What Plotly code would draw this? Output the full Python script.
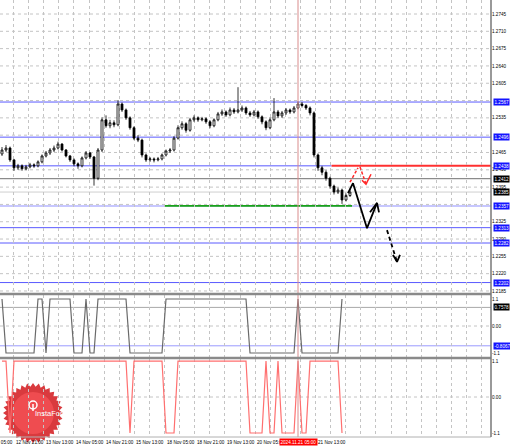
import numpy as np
import plotly.graph_objects as go

# ---------------- data ----------------
bar_open = [1.2462, 1.2470, 1.2474, 1.2450, 1.2434, 1.2438, 1.2432, 1.2436, 1.2440, 1.2438,
            1.2446, 1.2458, 1.2464, 1.2470, 1.2474, 1.2482, 1.2470, 1.2458, 1.2450, 1.2442,
            1.2438, 1.2454, 1.2464, 1.2456, 1.2413, 1.2470, 1.2531, 1.2519, 1.2525, 1.2521,
            1.2563, 1.2551, 1.2535, 1.2515, 1.2494, 1.2490, 1.2460, 1.2450, 1.2452, 1.2450,
            1.2452, 1.2460, 1.2468, 1.2470, 1.2494, 1.2515, 1.2523, 1.2510, 1.2531, 1.2535,
            1.2531, 1.2533, 1.2527, 1.2519, 1.2531, 1.2543, 1.2547, 1.2541, 1.2551, 1.2547,
            1.2551, 1.2555, 1.2545, 1.2541, 1.2547, 1.2537, 1.2527, 1.2515, 1.2531, 1.2547,
            1.2539, 1.2545, 1.2551, 1.2547, 1.2555, 1.2563, 1.2560, 1.2555, 1.2545, 1.2460,
            1.2434, 1.2425, 1.2413, 1.2397, 1.2385, 1.2389, 1.2369, 1.2378]
bar_high = [1.2476, 1.2480, 1.2477, 1.2452, 1.2442, 1.2441, 1.2440, 1.2444, 1.2443, 1.2449,
            1.2461, 1.2468, 1.2474, 1.2479, 1.2487, 1.2484, 1.2472, 1.2460, 1.2453, 1.2445,
            1.2457, 1.2468, 1.2466, 1.2458, 1.2474, 1.2536, 1.2540, 1.2531, 1.2530, 1.2571,
            1.2566, 1.2554, 1.2538, 1.2518, 1.2500, 1.2493, 1.2463, 1.2456, 1.2455, 1.2456,
            1.2463, 1.2471, 1.2474, 1.2498, 1.2520, 1.2528, 1.2526, 1.2535, 1.2540, 1.2538,
            1.2537, 1.2536, 1.2530, 1.2534, 1.2547, 1.2552, 1.2550, 1.2556, 1.2555, 1.2597,
            1.2560, 1.2558, 1.2549, 1.2551, 1.2550, 1.2540, 1.2530, 1.2536, 1.2575, 1.2551,
            1.2549, 1.2555, 1.2554, 1.2559, 1.2568, 1.2567, 1.2563, 1.2558, 1.2548, 1.2463,
            1.2438, 1.2429, 1.2416, 1.2400, 1.2394, 1.2392, 1.2382, 1.2392]
bar_low = [1.2458, 1.2466, 1.2446, 1.2428, 1.2430, 1.2428, 1.2429, 1.2433, 1.2434, 1.2435,
           1.2443, 1.2455, 1.2460, 1.2466, 1.2471, 1.2467, 1.2455, 1.2446, 1.2437, 1.2432,
           1.2435, 1.2451, 1.2452, 1.2398, 1.2409, 1.2466, 1.2515, 1.2514, 1.2516, 1.2518,
           1.2547, 1.2531, 1.2511, 1.2490, 1.2486, 1.2455, 1.2446, 1.2446, 1.2445, 1.2447,
           1.2449, 1.2457, 1.2464, 1.2467, 1.2491, 1.2511, 1.2505, 1.2507, 1.2527, 1.2527,
           1.2528, 1.2523, 1.2514, 1.2516, 1.2528, 1.2539, 1.2537, 1.2538, 1.2543, 1.2544,
           1.2547, 1.2541, 1.2537, 1.2538, 1.2533, 1.2522, 1.2510, 1.2512, 1.2528, 1.2535,
           1.2535, 1.2541, 1.2543, 1.2544, 1.2552, 1.2556, 1.2551, 1.2540, 1.2455, 1.2428,
           1.2419, 1.2408, 1.2392, 1.2380, 1.2381, 1.2361, 1.2366, 1.2375]
bar_close = [1.2470, 1.2474, 1.2450, 1.2434, 1.2438, 1.2432, 1.2436, 1.2440, 1.2438, 1.2446,
             1.2458, 1.2464, 1.2470, 1.2474, 1.2482, 1.2470, 1.2458, 1.2450, 1.2442, 1.2438,
             1.2454, 1.2464, 1.2456, 1.2413, 1.2470, 1.2531, 1.2519, 1.2525, 1.2521, 1.2563,
             1.2551, 1.2535, 1.2515, 1.2494, 1.2490, 1.2460, 1.2450, 1.2452, 1.2450, 1.2452,
             1.2460, 1.2468, 1.2470, 1.2494, 1.2515, 1.2523, 1.2510, 1.2531, 1.2535, 1.2531,
             1.2533, 1.2527, 1.2519, 1.2531, 1.2543, 1.2547, 1.2541, 1.2551, 1.2547, 1.2551,
             1.2555, 1.2545, 1.2541, 1.2547, 1.2537, 1.2527, 1.2515, 1.2531, 1.2547, 1.2539,
             1.2545, 1.2551, 1.2547, 1.2555, 1.2563, 1.2560, 1.2555, 1.2545, 1.2460, 1.2434,
             1.2425, 1.2413, 1.2397, 1.2385, 1.2389, 1.2369, 1.2378, 1.2385]
bar_index = list(range(len(bar_close)))

osc_gray = [1.1, -1.1, -1.1, -1.1, -1.1, -1.1, -1.1, -1.1, -1.1, 1.1,
            1.1, -1.1, 1.1, 1.1, 1.1, 1.1, 1.1, 1.1, -1.1, -1.1,
            -1.1, 1.1, -1.1, -1.1, 1.1, 1.1, 1.1, 1.1, 1.1, 1.1,
            1.1, 1.1, -1.1, -1.1, -1.1, -1.1, -1.1, -1.1, -1.1, -1.1,
            -1.1, 1.1, 1.1, 1.1, 1.1, 1.1, 1.1, 1.1, 1.1, 1.1,
            1.1, 1.1, 1.1, 1.1, 1.1, 1.1, 1.1, 1.1, 1.1, 1.1,
            1.1, 1.1, -1.1, -1.1, -1.1, -1.1, -1.1, -1.1, -1.1, -1.1,
            -1.1, -1.1, -1.1, -1.1, 1.1, -1.1, -1.1, -1.1, -1.1, -1.1,
            -1.1, -1.1, -1.1, -1.1, -1.1, 1.1]
osc_red = [1.1, 1.1, -1.1, 1.1, 1.1, 1.1, 1.1, 1.1, 1.1, 1.1,
           1.1, 1.1, 1.1, 1.1, 1.1, 1.1, 1.1, 1.1, 1.1, 1.1,
           1.1, 1.1, 1.1, 1.1, 1.1, 1.1, 1.1, 1.1, 1.1, 1.1,
           1.1, 1.1, -1.1, 1.1, 1.1, 1.1, 1.1, 1.1, 1.1, 1.1,
           1.1, -1.1, -1.1, -1.1, 1.1, 1.1, 1.1, 1.1, 1.1, 1.1,
           1.1, 1.1, 1.1, 1.1, 1.1, 1.1, 1.1, 1.1, 1.1, 1.1,
           1.1, 1.1, -1.1, -1.1, -1.1, -1.1, 1.1, -1.1, -1.1, 1.1,
           -1.1, -1.1, -1.1, -1.1, 1.1, -1.1, -1.1, 1.1, 1.1, 1.1,
           1.1, 1.1, 1.1, 1.1, 1.1, -1.1]

# price scale labels visible in the reference (others are hidden under boxed labels)
price_ticks = [1.2745, 1.2710, 1.2675, 1.2640, 1.2605, 1.2535, 1.2465,
               1.2430, 1.2395, 1.2325, 1.2290, 1.2255, 1.2220, 1.2185]
price_grid = [1.2745, 1.2710, 1.2675, 1.2640, 1.2605, 1.2570, 1.2535, 1.2500, 1.2465,
              1.2430, 1.2395, 1.2360, 1.2325, 1.2290, 1.2255, 1.2220, 1.2185]
# time labels with their slot number (every second grid line); slot 10 is under the cursor box
time_labels = [(-1, "12 Nov 05:00"), (0, "12 Nov 21:00"), (1, "13 Nov 13:00"), (2, "14 Nov 05:00"),
               (3, "14 Nov 21:00"), (4, "15 Nov 13:00"), (5, "18 Nov 05:00"), (6, "18 Nov 21:00"),
               (7, "19 Nov 13:00"), (8, "20 Nov 05:00"), (10, "21 Nov 13:00")]
cursor_bar = 74
cursor_label = "2024.11.21 05:00"

blue_levels = [1.2567, 1.2496, 1.2313, 1.2282, 1.2202]
resistance_level = 1.2438
resistance_start = 82.4
gray_level = 1.2412
bid_level = 1.2385
support_level = 1.2357
support_start = 40.75
support_end = 87.5
osc_levels = [0.7578, -0.8067]

# forecast arrows (bar index, price)
black_x = [86.5, 87.75, 91.25, 93.75]
black_y = [1.2383, 1.2403, 1.2312, 1.2363]
black_head_x = [92.0, 93.75, 94.25]
black_head_y = [1.2344, 1.2363, 1.2344]
black_dash_x = [96.25, 98.75]
black_dash_y = [1.2308, 1.2244]
black_dhead_x = [97.75, 98.75, 99.5]
black_dhead_y = [1.2258, 1.2244, 1.2258]
red_up_x = [87.0, 89.0]
red_up_y = [1.2405, 1.2434]
red_dn_x = [89.5, 91.0]
red_dn_y = [1.2436, 1.2401]
red_head_x = [90.0, 91.0, 92.25]
red_head_y = [1.2409, 1.2401, 1.2421]

boxed_labels = [(1.2567, "1.2567", "#1414ff"), (1.2496, "1.2496", "#1414ff"),
                (1.2438, "1.2438", "#1414ff"), (1.2412, "1.2412", "#000000"),
                (1.2385, "1.2385", "#000000"), (1.2357, "1.2357", "#1414ff"),
                (1.2313, "1.2313", "#1414ff"), (1.2282, "1.2282", "#1414ff"),
                (1.2202, "1.2202", "#1414ff")]
osc_boxed = [(0.7578, "0.7578", "#000000"), (-0.8067, "-0.8067", "#1414ff")]

# ---------------- layout geometry ----------------
W, H = 510, 447
ML, MR, MT, MB = 0, 19, 0, 10
PW, PH = W - ML - MR, H - MT - MB
X_MIN, X_MAX = -0.5, (PW / 4.0) - 0.5
GRID0, GRIDSTEP = 2.875, 3.775
grid_vals = [GRID0 + GRIDSTEP * k for k in range(0, 33)]


def py2paper(py):
    return 1 - py / PH


FONT = "Liberation Sans, Arial, sans-serif"
GRID = "#c4c4c4"

fig = go.Figure()
fig.add_trace(go.Candlestick(
    x=bar_index, open=bar_open, high=bar_high, low=bar_low, close=bar_close,
    xaxis="x", yaxis="y", whiskerwidth=0, showlegend=False, hoverinfo="skip",
    increasing=dict(line=dict(color="#000000", width=0.8), fillcolor="#ffffff"),
    decreasing=dict(line=dict(color="#000000", width=0.8), fillcolor="#000000")))

fig.add_trace(go.Scatter(x=bar_index[:len(osc_gray)], y=osc_gray, xaxis="x2", yaxis="y2",
                         mode="lines", line=dict(color="#6a6a6a", width=1.2), showlegend=False))
fig.add_trace(go.Scatter(x=bar_index[:len(osc_red)], y=osc_red, xaxis="x3", yaxis="y3",
                         mode="lines", line=dict(color="#ff6f6f", width=1.2), showlegend=False))

# arrows
for xs, ys, dash in [(black_x, black_y, "solid"), (black_head_x, black_head_y, "solid"),
                     (black_dash_x, black_dash_y, "4px,3px"), (black_dhead_x, black_dhead_y, "solid")]:
    fig.add_trace(go.Scatter(x=xs, y=ys, xaxis="x", yaxis="y", mode="lines",
                             line=dict(color="#000000", width=1.8, dash=dash), showlegend=False))
for xs, ys, dash in [(red_up_x, red_up_y, "3px,2px"), (red_dn_x, red_dn_y, "3px,2px"),
                     (red_head_x, red_head_y, "solid")]:
    fig.add_trace(go.Scatter(x=xs, y=ys, xaxis="x", yaxis="y", mode="lines",
                             line=dict(color="#ff2a2a", width=1.5, dash=dash), showlegend=False))

shapes = []
# horizontal dotted price grid
for lv in price_grid:
    shapes.append(dict(type="line", xref="x domain", yref="y", x0=0, x1=1, y0=lv, y1=lv,
                       line=dict(color=GRID, width=1, dash="dot"), layer="below"))
# horizontal levels (main)
for lv in blue_levels:
    shapes.append(dict(type="line", xref="x domain", yref="y", x0=0, x1=1, y0=lv, y1=lv,
                       line=dict(color="#5a5aff", width=1), layer="below"))
shapes.append(dict(type="line", xref="x", yref="y", x0=X_MIN, x1=resistance_start,
                   y0=resistance_level, y1=resistance_level, line=dict(color="#5a5aff", width=1), layer="below"))
shapes.append(dict(type="line", xref="x", yref="y", x0=resistance_start, x1=X_MAX,
                   y0=resistance_level, y1=resistance_level, line=dict(color="#ff3030", width=2), layer="below"))
shapes.append(dict(type="line", xref="x domain", yref="y", x0=0, x1=1, y0=gray_level, y1=gray_level,
                   line=dict(color="#707070", width=1), layer="below"))
shapes.append(dict(type="line", xref="x domain", yref="y", x0=0, x1=1, y0=bid_level, y1=bid_level,
                   line=dict(color="#cfcfcf", width=1), layer="below"))
shapes.append(dict(type="line", xref="x domain", yref="y", x0=0, x1=1, y0=support_level, y1=support_level,
                   line=dict(color="#b4b4ff", width=1.5), layer="below"))
shapes.append(dict(type="line", xref="x", yref="y", x0=support_start, x1=support_end,
                   y0=support_level, y1=support_level, line=dict(color="#19a319", width=1.6), layer="below"))
# oscillator level lines
shapes.append(dict(type="line", xref="x2 domain", yref="y2", x0=0, x1=1, y0=osc_levels[0], y1=osc_levels[0],
                   line=dict(color="#a8a8a8", width=1), layer="below"))
shapes.append(dict(type="line", xref="x2 domain", yref="y2", x0=0, x1=1, y0=osc_levels[1], y1=osc_levels[1],
                   line=dict(color="#9a9aff", width=1), layer="below"))
for ax in ["2", "3"]:
    shapes.append(dict(type="line", xref=f"x{ax} domain", yref=f"y{ax}", x0=0, x1=1, y0=0, y1=0,
                       line=dict(color=GRID, width=1, dash="dot"), layer="below"))
# vertical cursor line
shapes.append(dict(type="line", xref="x", yref="paper", x0=cursor_bar, x1=cursor_bar, y0=0, y1=1,
                   line=dict(color="#d98c8c", width=1)))
# pane separators and right border
for py in [294, 358]:
    shapes.append(dict(type="line", xref="paper", yref="paper", x0=0, x1=1,
                       y0=py2paper(py), y1=py2paper(py), line=dict(color="#8a8a8a", width=2.5)))
shapes.append(dict(type="line", xref="paper", yref="paper", x0=0, x1=1, y0=0, y1=0,
                   line=dict(color="#b0b0b0", width=1)))
shapes.append(dict(type="line", xref="paper", yref="paper", x0=1, x1=1, y0=0, y1=1,
                   line=dict(color="#777777", width=1.5)))

# logo (decorative starburst)
cx, cy, r_out, r_in, n = 33, 413, 30, 26.5, 32
pts = []
for k in range(2 * n):
    r = r_out if k % 2 == 0 else r_in
    a = np.pi * k / n
    pts.append(((cx + r * np.cos(a)) / PW, py2paper(cy + r * np.sin(a))))
star = "M " + " L ".join(f"{x:.5f},{y:.5f}" for x, y in pts) + " Z"
shapes.append(dict(type="path", path=star, xref="paper", yref="paper",
                   fillcolor="#d93a3e", line=dict(width=0), layer="below"))
shapes.append(dict(type="circle", xref="paper", yref="paper",
                   x0=(cx - 21) / PW, x1=(cx + 21) / PW, y0=py2paper(cy + 21), y1=py2paper(cy - 21),
                   fillcolor="#ef4c50", line=dict(width=0), layer="below"))
shapes.append(dict(type="circle", xref="paper", yref="paper",
                   x0=(cx - 4) / PW, x1=(cx + 4) / PW, y0=py2paper(cy - 4), y1=py2paper(cy - 12),
                   fillcolor="rgba(0,0,0,0)", line=dict(color="#ffffff", width=1.5), layer="below"))
shapes.append(dict(type="line", xref="paper", yref="paper",
                   x0=cx / PW, x1=cx / PW, y0=py2paper(cy - 9), y1=py2paper(cy - 2),
                   line=dict(color="#ffffff", width=1.5), layer="below"))

annotations = []
annotations.append(dict(text="InstaForex", xref="paper", yref="paper", x=cx / PW, y=py2paper(cy + 7),
                        showarrow=False, font=dict(family=FONT, size=7.5, color="#ffffff")))
# time labels (left edge at every second grid line)
for slot, lab in time_labels:
    xv = GRID0 + GRIDSTEP * 2 * slot
    annotations.append(dict(text=lab, xref="paper", yref="paper",
                            x=(xv - X_MIN) / (X_MAX - X_MIN), y=0, xanchor="left", yanchor="top",
                            yshift=-0.5, showarrow=False, font=dict(family=FONT, size=4.6, color="#000000")))
annotations.append(dict(text=cursor_label, xref="x", yref="paper", x=cursor_bar, y=0,
                        xanchor="center", yanchor="top", yshift=-0.5, showarrow=False, bgcolor="#ff0000",
                        borderpad=0.5, font=dict(family=FONT, size=4.6, color="#ffffff")))
for lv, txt, bg in boxed_labels:
    annotations.append(dict(text=txt, xref="paper", yref="y", x=1, y=lv, xanchor="left", yanchor="middle",
                            xshift=1.5, showarrow=False, bgcolor=bg, borderpad=0.5,
                            font=dict(family=FONT, size=4.6, color="#ffffff")))
for lv, txt, bg in osc_boxed:
    annotations.append(dict(text=txt, xref="paper", yref="y2", x=1, y=lv, xanchor="left", yanchor="middle",
                            xshift=1.5, showarrow=False, bgcolor=bg, borderpad=0.5,
                            font=dict(family=FONT, size=4.6, color="#ffffff")))

xcommon = dict(range=[X_MIN, X_MAX], tickmode="array", tickvals=grid_vals, showticklabels=False,
               showgrid=True, gridcolor=GRID, griddash="dot", gridwidth=1, zeroline=False,
               ticks="", showline=False, fixedrange=True)
tickfont = dict(family=FONT, size=4.6, color="#000000")

fig.update_layout(
    width=W, height=H, margin=dict(l=ML, r=MR, t=MT, b=MB),
    paper_bgcolor="#ffffff", plot_bgcolor="#ffffff", showlegend=False, hovermode=False,
    xaxis=dict(**xcommon, anchor="y", domain=[0, 1], rangeslider=dict(visible=False)),
    xaxis2=dict(**xcommon, anchor="y2", domain=[0, 1], matches="x"),
    xaxis3=dict(**xcommon, anchor="y3", domain=[0, 1], matches="x"),
    yaxis=dict(domain=[py2paper(293), 1], range=[1.21809, 1.27733], side="right", anchor="x",
               tickmode="array", tickvals=price_ticks, ticktext=[f"{v:.4f}" for v in price_ticks],
               tickfont=tickfont, ticks="", showgrid=False,
               zeroline=False, fixedrange=True),
    yaxis2=dict(domain=[py2paper(357), py2paper(295)], range=[-1.263, 1.263], side="right", anchor="x2",
                tickmode="array", tickvals=[1.1, 0, -1.1], ticktext=["1.1", "0.00", "-1.1"],
                tickfont=tickfont, ticks="", showgrid=False, zeroline=False, fixedrange=True),
    yaxis3=dict(domain=[0, py2paper(359)], range=[-1.223, 1.162], side="right", anchor="x3",
                tickmode="array", tickvals=[1.1, 0, -1.1], ticktext=["1.1", "0.00", "-1.1"],
                tickfont=tickfont, ticks="", showgrid=False, zeroline=False, fixedrange=True),
    shapes=shapes, annotations=annotations,
)

fig.write_html("out.html", config={"displayModeBar": False},
               post_script="document.body.style.margin='0';document.body.style.overflow='hidden';")
